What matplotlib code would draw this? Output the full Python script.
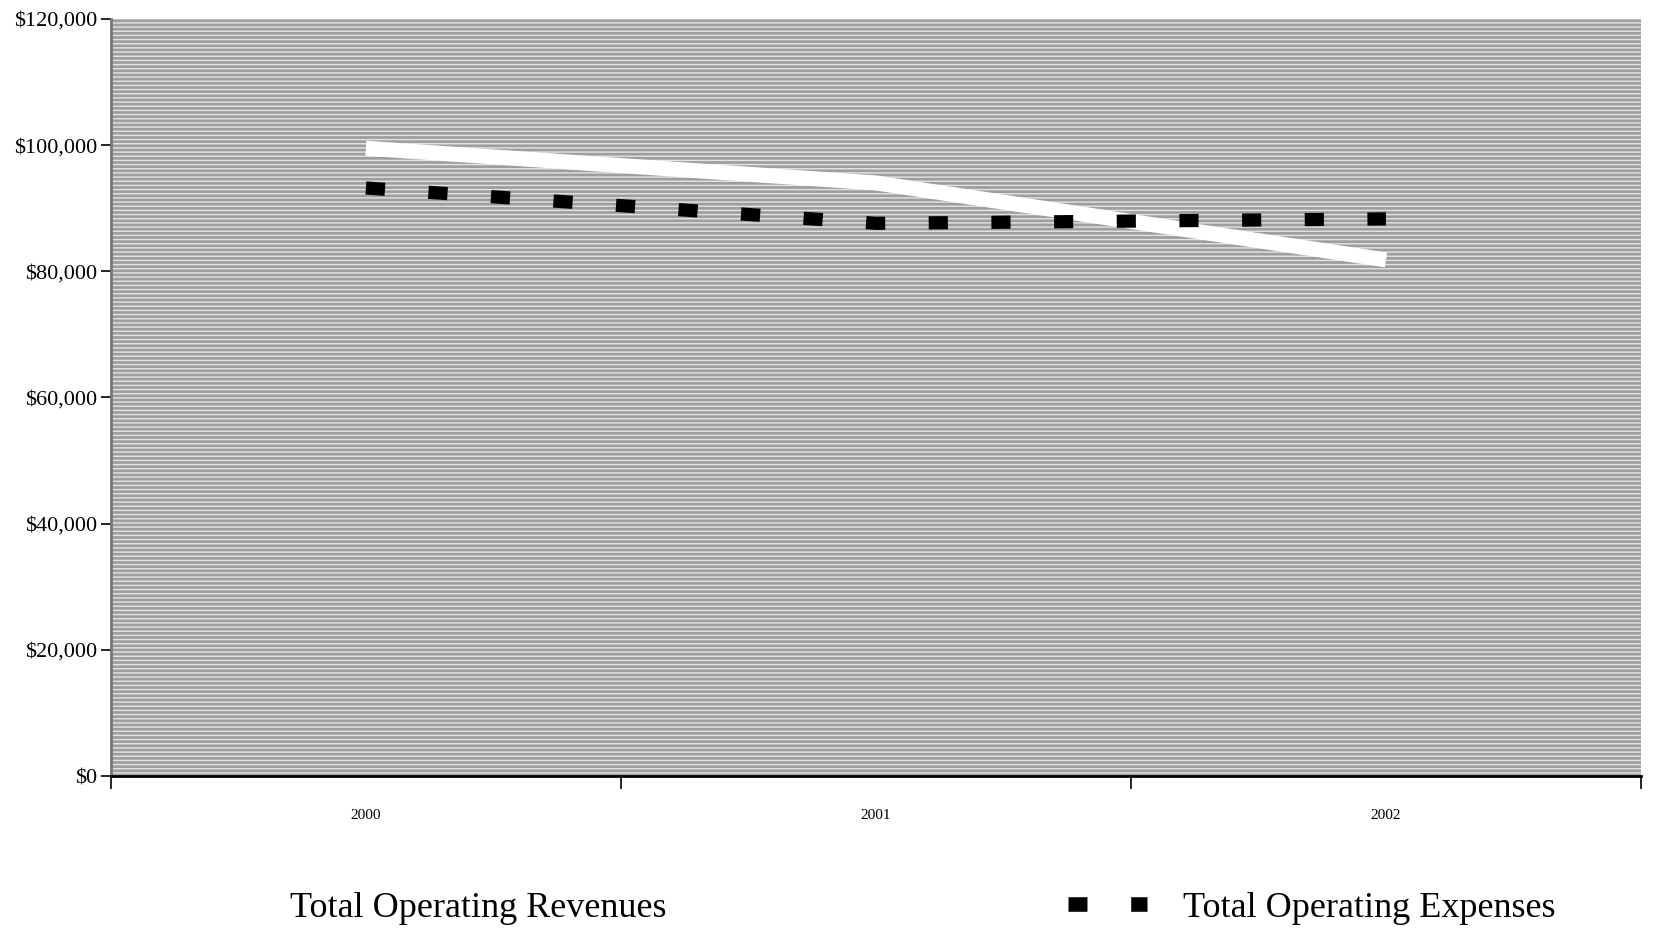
import matplotlib
matplotlib.use("Agg")
import matplotlib.pyplot as plt
from matplotlib.lines import Line2D
from matplotlib.patches import Rectangle
from matplotlib.ticker import FuncFormatter

# values
years = ["2000", "2001", "2002"]
revenues = [99500, 94000, 81800]
expenses = [93200, 87600, 88300]

plt.rcParams['font.family'] = ['Liberation Serif', 'DejaVu Serif']

fig = plt.figure(figsize=(16.55, 9.43), dpi=100)
ax = fig.add_axes([0.067, 0.177, 0.9245, 0.803])

# stippled grey plot area
ax.set_facecolor('#9e9e9e')
ax.add_patch(Rectangle((0, 0), 1, 1, transform=ax.transAxes, facecolor='none',
                       edgecolor='#e4e4e4', hatch='----', linewidth=0, zorder=0.5))

x = list(range(len(years)))
ax.plot(x, revenues, color='white', lw=10.8, solid_capstyle='butt', zorder=3)
ax.plot(x, expenses, color='black', lw=9.5, linestyle=(0, (1.45, 3.3)),
        dash_capstyle='butt', zorder=4)

ax.set_xlim(-0.5, 2.5)
ax.set_ylim(0, 120000)
ax.set_yticks(range(0, 120001, 20000))
ax.yaxis.set_major_formatter(FuncFormatter(lambda v, p: "${:,.0f}".format(v)))
ax.tick_params(axis='y', labelsize=16, length=7, width=1.2, pad=3)

ax.set_xticks(x)
ax.set_xticklabels(years)
ax.set_xticks([-0.5, 0.5, 1.5, 2.5], minor=True)
ax.tick_params(axis='x', which='major', length=0, labelsize=11, pad=24)
ax.tick_params(axis='x', which='minor', length=9, width=1.2)

for s in ['top', 'right']:
    ax.spines[s].set_visible(False)
ax.spines['left'].set_color('#777777')
ax.spines['left'].set_linewidth(2)
ax.spines['bottom'].set_color('black')
ax.spines['bottom'].set_linewidth(2)

handles = [Line2D([], [], color='white', lw=10.8),
           Line2D([], [], color='black', lw=10.5, linestyle=(0, (1.3, 3.0)))]
fig.legend(handles, ['Total Operating Revenues', 'Total Operating Expenses'],
           loc='center left', bbox_to_anchor=(0.086, 0.037), ncol=2, frameon=False,
           fontsize=26, handlelength=2.2, handletextpad=1.0, columnspacing=11.1)

fig.savefig("out.png", dpi=100)
